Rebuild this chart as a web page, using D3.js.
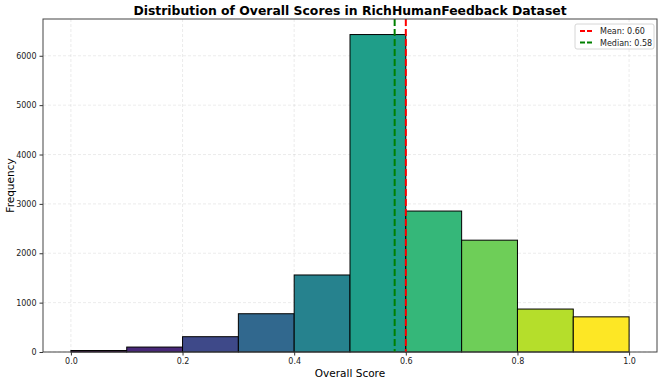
<!DOCTYPE html>
<html lang="en">
<head>
<meta charset="utf-8">
<title>Distribution of Overall Scores</title>
<script src="https://d3js.org/d3.v7.min.js"></script>
<style>
  body { margin: 0; background: #fff; }
  text { font-family: "DejaVu Sans", sans-serif; }
</style>
</head>
<body>
<script>
// histogram bins (score ranges) and counts
var binStarts = [0.0, 0.1, 0.2, 0.3, 0.4, 0.5, 0.6, 0.7, 0.8, 0.9];
var counts = [30, 100, 310, 775, 1560, 6430, 2855, 2265, 870, 712];
var xTicks = [0.0, 0.2, 0.4, 0.6, 0.8, 1.0];
var yTicks = [0, 1000, 2000, 3000, 4000, 5000, 6000];
var meanVal = 0.60, medianVal = 0.58;

var w = 662, h = 384;
var m = {left: 43, right: 5, top: 19, bottom: 32};

var svg = d3.select("body").append("svg")
    .attr("width", w).attr("height", h);

var x = d3.scaleLinear().domain([-0.05, 1.05]).range([m.left, w - m.right]);
var y = d3.scaleLinear().domain([0, 6745]).range([h - m.bottom, m.top]);

// grid
svg.append("g").selectAll("line.gx").data(xTicks).enter().append("line")
    .attr("x1", d => x(d)).attr("x2", d => x(d))
    .attr("y1", m.top).attr("y2", h - m.bottom)
    .attr("stroke", "#b0b0b0").attr("stroke-opacity", 0.3)
    .attr("stroke-dasharray", "3,2").attr("stroke-width", 0.8);
svg.append("g").selectAll("line.gy").data(yTicks).enter().append("line")
    .attr("x1", m.left).attr("x2", w - m.right)
    .attr("y1", d => y(d)).attr("y2", d => y(d))
    .attr("stroke", "#b0b0b0").attr("stroke-opacity", 0.3)
    .attr("stroke-dasharray", "3,2").attr("stroke-width", 0.8);

// bars
svg.append("g").selectAll("rect").data(counts).enter().append("rect")
    .attr("x", (d, i) => x(binStarts[i]))
    .attr("width", (d, i) => x(binStarts[i] + 0.1) - x(binStarts[i]))
    .attr("y", d => y(d))
    .attr("height", d => y(0) - y(d))
    .attr("fill", (d, i) => d3.interpolateViridis(i / 9))
    .attr("stroke", "#000").attr("stroke-width", 1);

// mean / median lines
svg.append("line")
    .attr("x1", x(medianVal)).attr("x2", x(medianVal))
    .attr("y1", m.top).attr("y2", h - m.bottom)
    .attr("stroke", "#008000").attr("stroke-width", 2)
    .attr("stroke-dasharray", "7,3");
svg.append("line")
    .attr("x1", x(meanVal)).attr("x2", x(meanVal))
    .attr("y1", m.top).attr("y2", h - m.bottom)
    .attr("stroke", "#ff0000").attr("stroke-width", 2)
    .attr("stroke-dasharray", "7,3");

// axes
var xAxis = svg.append("g")
    .attr("transform", "translate(0," + (h - m.bottom) + ")")
    .call(d3.axisBottom(x).tickValues(xTicks).tickFormat(d3.format(".1f")).tickSize(3.5).tickPadding(3));
var yAxis = svg.append("g")
    .attr("transform", "translate(" + m.left + ",0)")
    .call(d3.axisLeft(y).tickValues(yTicks).tickFormat(d3.format("d")).tickSize(3.5).tickPadding(3));
[xAxis, yAxis].forEach(function(a) {
  a.select(".domain").remove();
  a.selectAll("text").attr("font-family", "DejaVu Sans").attr("font-size", 8).attr("fill", "#222");
  a.selectAll("line").attr("stroke", "#333");
});

// frame
svg.append("rect")
    .attr("x", m.left).attr("y", m.top)
    .attr("width", w - m.left - m.right).attr("height", h - m.top - m.bottom)
    .attr("fill", "none").attr("stroke", "#444").attr("stroke-width", 1);

// labels
svg.append("text").attr("x", (m.left + w - m.right) / 2).attr("y", 15)
    .attr("text-anchor", "middle").attr("font-size", 12.4).attr("font-weight", "bold")
    .text("Distribution of Overall Scores in RichHumanFeedback Dataset");
svg.append("text").attr("x", (m.left + w - m.right) / 2).attr("y", 377)
    .attr("text-anchor", "middle").attr("font-size", 10.5)
    .text("Overall Score");
svg.append("text")
    .attr("transform", "translate(14," + ((m.top + h - m.bottom) / 2) + ") rotate(-90)")
    .attr("text-anchor", "middle").attr("font-size", 10.5)
    .text("Frequency");

// legend
var lg = svg.append("g").attr("transform", "translate(575,24)");
lg.append("rect").attr("width", 79).attr("height", 25).attr("rx", 2)
    .attr("fill", "#fff").attr("fill-opacity", 0.8).attr("stroke", "#ccc").attr("stroke-width", 0.8);
var legendItems = [{label: "Mean: 0.60", color: "#ff0000"}, {label: "Median: 0.58", color: "#008000"}];
legendItems.forEach(function(d, i) {
  var yy = 7 + i * 11.5;
  lg.append("line").attr("x1", 5).attr("x2", 19).attr("y1", yy).attr("y2", yy)
      .attr("stroke", d.color).attr("stroke-width", 2).attr("stroke-dasharray", "5,2");
  lg.append("text").attr("x", 25).attr("y", yy + 3).attr("font-size", 8).attr("fill", "#222").text(d.label);
});
</script>
</body>
</html>
